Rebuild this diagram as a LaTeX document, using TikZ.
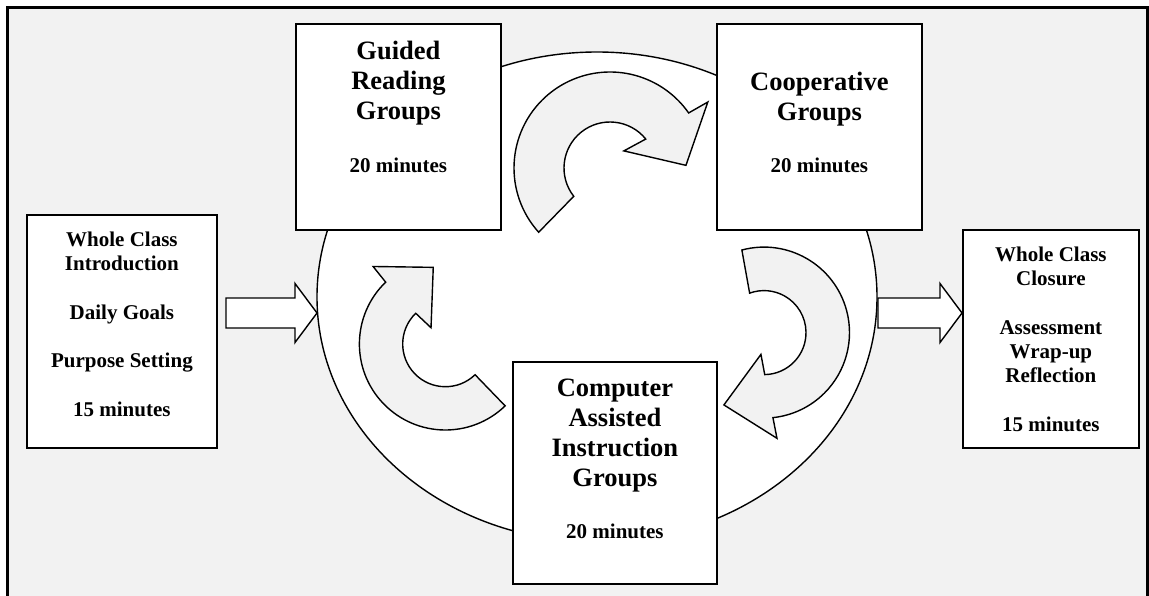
\documentclass[tikz,border=0pt]{standalone}
\usepackage{fontspec}
\setmainfont{Liberation Serif}
\usepackage{tikz}
\usetikzlibrary{shapes.geometric,calc}

\definecolor{panel}{HTML}{F2F2F2}

\newcommand{\stagehead}{\fontsize{26.5}{30}\selectfont}
\newcommand{\stagebody}{\fontsize{21}{24.3}\selectfont}
% fixed size box, text hung from the top
\newcommand{\stagetext}[4]{\parbox[c][#2][t]{#1}{\vspace*{#3}\centering\bfseries #4}}
% fat block arrow from tail to tip
\newcommand{\fatarrow}[2]{%
  \draw[wide] ($(#1)+(0,15)$) -- ($(#2)+(-22,15)$) -- ($(#2)+(-22,29.5)$) -- (#2)
    -- ($(#2)+(-22,-29.5)$) -- ($(#2)+(-22,-15)$) -- ($(#1)+(0,-15)$) -- cycle;}

\begin{document}
\begin{tikzpicture}[x=1pt, y=1pt,
    stage/.style={draw, fill=white, line width=1.8, inner sep=0pt, anchor=north west},
    orbit/.style={ellipse, draw, fill=white, line width=1.4, inner sep=0pt,
      minimum width=560, minimum height=490},
    turn/.style={draw, fill=panel, line width=1.4, line join=miter},
    wide/.style={draw, fill=white, line width=1.4, line join=miter}]
  \useasboundingbox (0,0) rectangle (1149,-596);
  \draw[fill=panel, line width=2.4] (7.5,-7.5) rectangle (1147.5,-640);

  \node[orbit] (ring) at (597,-297) {};

  % rotation arrows inside the ring
  \draw[turn, shift={(610,-168)}] (222:96) arc[start angle=222, end angle=35, radius=96]
    -- (34:118) -- (2:76) -- (51:22) -- (39:46) arc[start angle=39, end angle=218, radius=46] -- cycle;
  \draw[turn, shift={(764,-332.6)}] (105:85.5) arc[start angle=105, end angle=-84, radius=85.5]
    -- (-83:106.5) -- (-119:82.7) -- (-98:22) -- (-89:42) arc[start angle=-89, end angle=110, radius=42] -- cycle;
  \draw[turn, shift={(445.4,-344)}] (-46:86) arc[start angle=-46, end angle=-226, radius=86]
    -- (133:106) -- (99:77.6) -- (131.5:21.7) -- (134:42.7) arc[start angle=134, end angle=314, radius=42.7] -- cycle;

  \node[stage] (intro) at (26,-214) {\stagetext{190pt}{233pt}{17pt}{\stagebody
    Whole Class\\Introduction\\[24.3pt]Daily Goals\\[24.3pt]Purpose Setting\\[24.3pt]15 minutes}};
  \node[stage] (guided) at (295,-23) {\stagetext{205pt}{206pt}{17.5pt}{%
    {\stagehead Guided\\Reading\\Groups\par}\vspace{28pt}{\stagebody 20 minutes\par}}};
  \node[stage] (coop) at (716,-23) {\stagetext{205pt}{206pt}{48pt}{%
    {\stagehead Cooperative\\Groups\par}\vspace{28pt}{\stagebody 20 minutes\par}}};
  \node[stage] (cai) at (512,-361) {\stagetext{204pt}{222pt}{17pt}{%
    {\stagehead Computer\\Assisted\\Instruction\\Groups\par}\vspace{28pt}{\stagebody 20 minutes\par}}};
  \node[stage] (closure) at (962,-229) {\stagetext{176pt}{218pt}{17pt}{\stagebody
    Whole Class\\Closure\\[24.3pt]Assessment\\Wrap-up\\Reflection\\[24.3pt]15 minutes}};

  % into and out of the ring
  \coordinate (inTail) at (226,-313);
  \coordinate (inTip) at (317,-313);
  \coordinate (outTail) at (878,-313);
  \coordinate (outTip) at (962,-313);
  \fatarrow{inTail}{inTip}
  \fatarrow{outTail}{outTip}
\end{tikzpicture}
\end{document}
